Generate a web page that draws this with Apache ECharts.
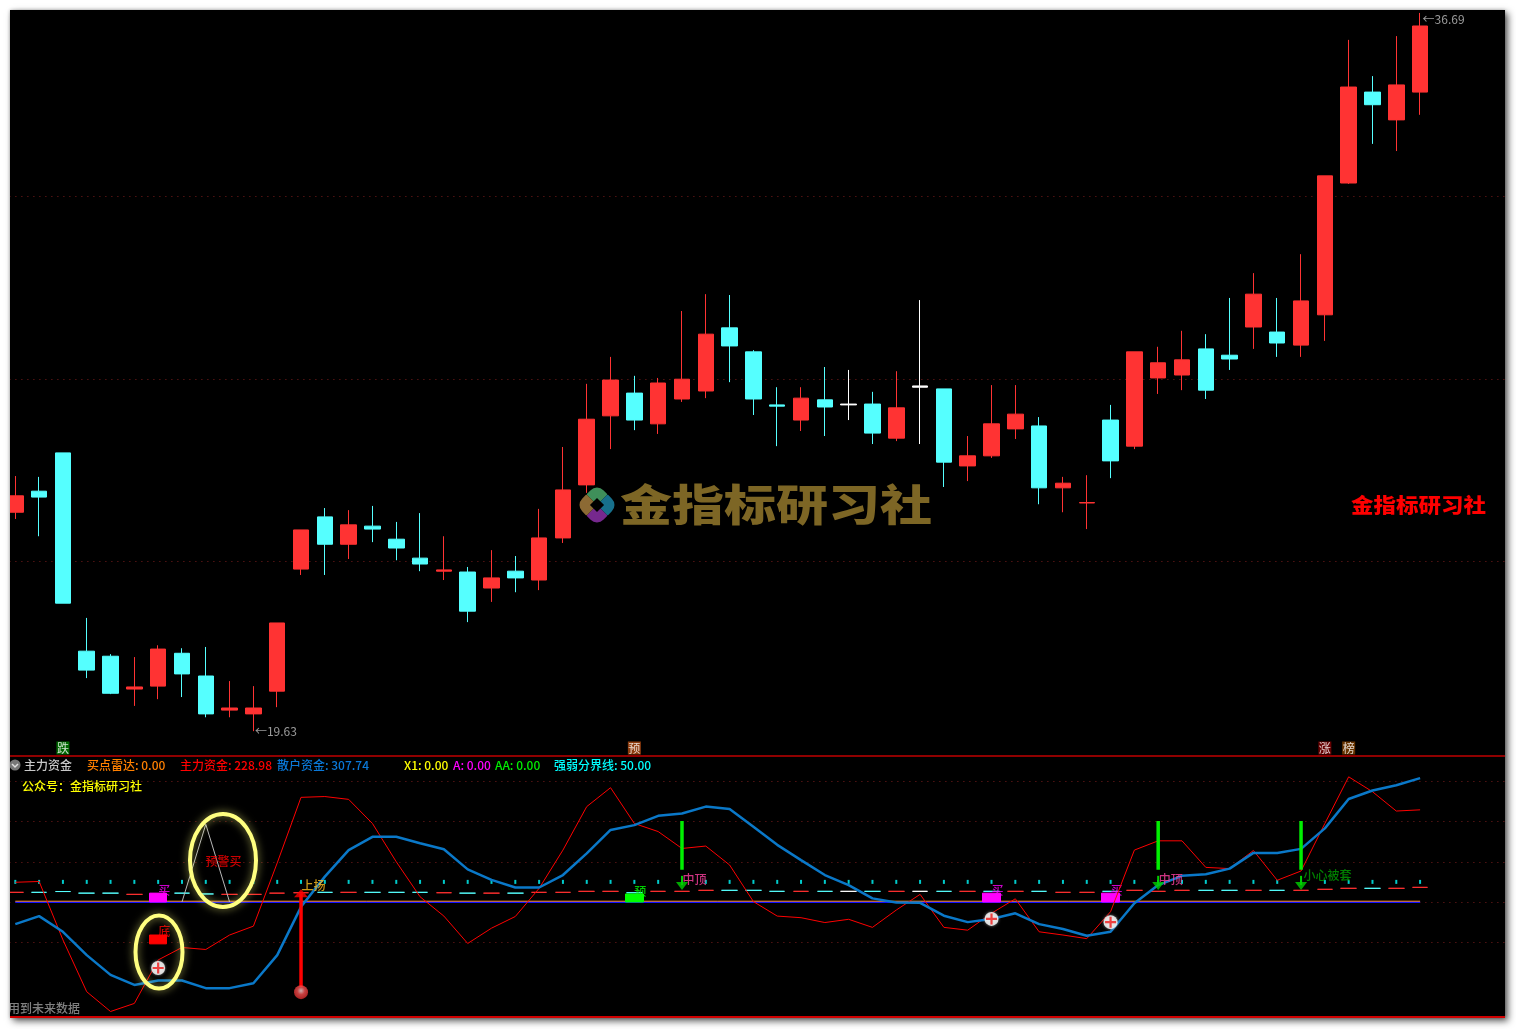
<!DOCTYPE html>
<html>
<head>
<meta charset="utf-8">
<title>主力资金</title>
<script src="https://cdn.jsdelivr.net/npm/echarts@6/dist/echarts.min.js"></script>
<style>
  html, body { margin: 0; padding: 0; background: #fff; }
  #chart {
    position: absolute; left: 10px; top: 10px; width: 1495px; height: 1008px;
    background: #000; overflow: hidden;
    box-shadow: 3px 3px 7px rgba(0, 0, 0, 0.65), 0 0 3px rgba(0, 0, 0, 0.25);
  }
</style>
</head>
<body>
<div id="chart"></div>
<script>
// 64 slots, the last four stay empty like the space right of the last bar
const categories = Array.from({ length: 64 }, (_, i) => i);

// open, close, low, high
const klines = [
  [24.83, 25.22, 24.67, 25.69], [25.33, 25.19, 24.26, 25.67], [26.24, 22.67, 22.67, 26.24], [21.53, 21.08, 20.89, 22.32],
  [21.41, 20.53, 20.51, 21.46], [20.63, 20.68, 20.23, 21.39], [20.70, 21.58, 20.39, 21.67], [21.48, 20.99, 20.44, 21.60],
  [20.94, 20.04, 19.96, 21.63], [20.13, 20.18, 19.96, 20.82], [20.04, 20.18, 19.63, 20.70], [20.58, 22.20, 20.20, 22.20],
  [23.48, 24.41, 23.34, 24.41], [24.72, 24.07, 23.34, 24.93], [24.07, 24.53, 23.72, 24.88], [24.50, 24.43, 24.12, 24.98],
  [24.19, 23.98, 23.69, 24.60], [23.74, 23.60, 23.43, 24.81], [23.43, 23.46, 23.22, 24.26], [23.41, 22.48, 22.22, 23.53],
  [23.03, 23.27, 22.70, 23.93], [23.43, 23.27, 22.93, 23.79], [23.22, 24.22, 22.98, 24.91], [24.22, 25.36, 24.10, 26.38],
  [25.48, 27.04, 25.29, 27.88], [27.12, 27.97, 26.33, 28.52], [27.66, 27.02, 26.78, 28.07], [26.93, 27.90, 26.69, 28.02],
  [27.52, 27.99, 27.45, 29.61], [27.71, 29.06, 27.54, 30.01], [29.21, 28.78, 27.92, 29.99], [28.64, 27.52, 27.14, 28.68],
  [27.38, 27.35, 26.40, 27.80], [27.02, 27.54, 26.76, 27.80], [27.50, 27.33, 26.64, 28.28], [27.40, 27.38, 27.02, 28.21],
  [27.40, 26.71, 26.45, 27.69], [26.59, 27.31, 26.52, 28.18], [27.83, 27.80, 26.45, 29.87], [27.76, 26.02, 25.43, 27.76],
  [25.93, 26.17, 25.57, 26.64], [26.17, 26.93, 26.12, 27.85], [26.81, 27.16, 26.57, 27.85], [26.88, 25.41, 25.02, 27.09],
  [25.41, 25.52, 24.83, 25.67], [25.05, 25.06, 24.43, 25.71], [27.02, 26.05, 25.64, 27.38], [26.40, 28.64, 26.33, 28.64],
  [28.02, 28.38, 27.64, 28.76], [28.09, 28.45, 27.73, 29.14], [28.71, 27.73, 27.52, 29.06], [28.56, 28.47, 28.21, 29.92],
  [29.23, 30.01, 28.71, 30.51], [29.11, 28.85, 28.52, 29.92], [28.80, 29.85, 28.52, 30.96], [29.52, 32.82, 28.90, 32.82],
  [32.65, 34.93, 32.63, 36.05], [34.81, 34.51, 33.58, 35.19], [34.15, 34.98, 33.41, 36.14], [34.81, 36.38, 34.27, 36.69],
];
const whiteDoji = [35, 38];
const priceGrid = [32.34, 27.99, 23.67];
const priceLow = [10, 19.63];
const priceHigh = [59, 36.69];
const bottomTags = [[2, 19.23], [26, 19.23], [55, 19.23], [56, 19.23]];
const bottomTagTexts = ['跌', '预', '涨', '榜'];

const mainFund = [
  49, 51, -94, -223, -272, -252, -144, -113, -118, -82, -60, 97, 260, 262, 255, 195, 100, 13, -35, -103,
  -65, -36, 34, 129, 237, 284, 195, 175, 133, 139, 92, 1, -35, -39, -51, -43, -63, -20, 19, -63,
  -70, -28, 8, -74, -82, -91, -24, 129, 152, 152, 86, 83, 128, 54, 77, 195, 311, 274, 226, 228.98,
];
const retailFund = [
  -55, -35, -74, -132, -181, -206, -195, -195, -214, -214, -202, -132, -12, 63, 129, 162, 162, 146, 131, 81,
  55, 36, 36, 67, 121, 179, 191, 214, 220, 237, 231, 187, 142, 104, 67, 42, 9, -1, -2, -34,
  -50, -42, -28, -55, -67, -84, -74, -3, 42, 65, 69, 83, 122, 122, 132, 183, 256, 277, 290, 307.74,
];
const dividerLine = [
  50, 50, 50, 50, 50, 50, 50, 50, 50, 50, 50, 50, 50, 50, 50, 50, 50, 50, 50, 50,
  50, 50, 50, 50, 50, 50, 50, 50, 50, 50, 50, 50, 50, 50, 50, 50, 50, 50, 50, 50,
  50, 50, 50, 50, 50, 50, 50, 50, 50, 50, 50, 50, 50, 50, 50, 50, 50, 50, 50, 50,
];
const dashTicks = [
  24, 24, 26, 22, 22, 19, 20, 22, 20, 19, 19, 22, 23, 24, 24, 24, 24, 24, 23, 22,
  22, 22, 24, 24, 26.5, 26.5, 23, 26.5, 26.5, 29, 29, 29, 26.5, 26.5, 26.5, 26.5, 26.5, 26.5, 26.5, 26.5,
  26.5, 26.5, 26.5, 26.5, 24, 24, 26.5, 29, 26.5, 29, 29, 29, 29, 29, 29, 31.5, 34, 34, 34, 36.4,
];
const dashKinds = [
  'r', 'c', 'c', 'c', 'c', 'r', 'r', 'c', 'c', 'r', 'r', 'r', 'r', 'c', 'r', 'c', 'c', 'c', 'r', 'c',
  'r', 'c', 'r', 'r', 'r', 'r', 'c', 'r', 'r', 'r', 'c', 'c', 'c', 'r', 'c', 'w', 'c', 'r', 'w', 'c',
  'r', 'c', 'r', 'c', 'r', 'r', 'c', 'r', 'r', 'r', 'c', 'c', 'r', 'c', 'r', 'r', 'r', 'c', 'r', 'r',
];
const indicatorGrid = [300, 200, 100, 0, -100];
const zeroLine = [[0, 0], [59, 0]];
const radarLine = [[0, 2], [59, 2]];
const warnPeak = [[7, 0], [8, 193], [9, 0]];
const magentaBoxes = [[6, 0, 22, 0, 22], [41, 0, 22, 0, 22], [46, 0, 22, 0, 22]];
const greenBoxes = [[26, 0, 20, 0, 20]];
const redBoxes = [[6, -104, -82, -104, -82]];
const plusPoints = [[6, -164], [41, -42], [46, -50]];
const riseBar = [[12, 22], [12, -211]];
const riseHead = [[12, 22]];
const riseBall = [[12, -224]];
const topBars = [[[28, 201], [28, 80]], [[48, 201], [48, 80]], [[54, 201], [54, 80]]];
const topStems = [[[28, 65], [28, 42]], [[48, 65], [48, 42]], [[54, 65], [54, 42]]];
const topHeads = [[28, 40], [48, 40], [54, 40]];

const CJK = '"Noto Sans CJK SC"';
const DOT = [1, 5];

const klineData = klines.map((item, i) => {
  if (!whiteDoji.includes(i)) return item;
  return { value: item, itemStyle: { borderColor: '#fff', borderColor0: '#fff', borderColorDoji: '#fff', color: '#fff', color0: '#fff' } };
});

const dashColors = { r: '#ff3030', c: '#55ffff', w: '#ffffff' };
const dashData = dashTicks.map((v, i) => {
  const c = dashColors[dashKinds[i]];
  return { value: [v, v, v, v], itemStyle: { borderColor: c, borderColor0: c, borderColorDoji: c, color: c, color0: c } };
});

// sparse boxes -> one row per slot, empty where there is no signal
const boxRows = (boxes) => categories.map((i) => {
  const hit = boxes.find((b) => b[0] === i);
  return hit ? hit.slice(1) : ['-', '-', '-', '-'];
});

const boxSeries = (boxes, color) => ({
  type: 'candlestick', xAxisIndex: 1, yAxisIndex: 1, z: 4, barWidth: 18, data: boxRows(boxes),
  itemStyle: { color, color0: color, borderColor: color, borderColor0: color, borderWidth: 1 },
});

const lineSeries = (data, color, width, z) => ({
  type: 'line', xAxisIndex: 1, yAxisIndex: 1, z, symbol: 'none', data,
  lineStyle: { color, width },
});

// text pinned to a data point, the dot itself is invisible
const textSeries = (points, texts, color, fontSize, position, offset, z) => ({
  type: 'scatter', xAxisIndex: 1, yAxisIndex: 1, z: z || 3, symbolSize: 1,
  itemStyle: { color: 'transparent' },
  data: points.map((p, i) => ({ value: p, name: texts[i] })),
  label: { show: true, formatter: '{b}', color, fontSize, fontWeight: 500, fontFamily: CJK, position, offset },
});

const headText = (x, y, text, fill) => ({
  type: 'text', x: x - 10, y: y - 10, z: 50,
  style: { text, fill, font: '500 12px ' + CJK, verticalAlign: 'middle' },
});

const ring = (cx, cy, rx, ry) => ({
  type: 'ellipse', z: 60,
  shape: { cx: cx - 10, cy: cy - 10, rx, ry },
  style: { fill: 'transparent', stroke: '#ffff80', lineWidth: 4, shadowBlur: 8, shadowColor: 'rgba(255,255,128,0.6)' },
});

const chart = echarts.init(document.getElementById('chart'), null, { renderer: 'canvas' });
chart.setOption({
  animation: false,
  backgroundColor: '#000',
  tooltip: { show: false },
  grid: [
    { left: -6.6, width: 1523.84, top: 0, height: 746, outerBoundsMode: 'none' },
    { left: -6.6, width: 1523.84, top: 747, height: 260, outerBoundsMode: 'none' },
  ],
  xAxis: [
    { type: 'category', gridIndex: 0, data: categories, show: false },
    { type: 'category', gridIndex: 1, data: categories, show: false },
  ],
  yAxis: [
    { type: 'value', gridIndex: 0, min: 19.04, max: 36.76, scale: true, show: false, splitLine: { show: false } },
    { type: 'value', gridIndex: 1, min: -285.7, max: 360.25, scale: true, show: false, splitLine: { show: false } },
  ],
  series: [
    {
      type: 'candlestick', xAxisIndex: 0, yAxisIndex: 0, z: 3, barWidth: 16, data: klineData,
      itemStyle: { color: '#ff3333', color0: '#55ffff', borderColor: '#ff3333', borderColor0: '#55ffff', borderColorDoji: '#ff3333', borderWidth: 1 },
      markLine: {
        silent: true, symbol: 'none', z: 1, label: { show: false },
        lineStyle: { color: '#7a1c1c', width: 1, type: DOT },
        data: priceGrid.map((v) => ({ yAxis: v })),
      },
    },
    {
      type: 'scatter', xAxisIndex: 0, yAxisIndex: 0, z: 3, symbolSize: 1, itemStyle: { color: 'transparent' },
      data: [{ value: priceLow, name: '←19.63' }],
      label: { show: true, formatter: '{b}', color: '#c0c0c0', fontSize: 12, fontFamily: CJK, position: 'right', offset: [-4, 0] },
    },
    {
      type: 'scatter', xAxisIndex: 0, yAxisIndex: 0, z: 3, symbolSize: 1, itemStyle: { color: 'transparent' },
      data: [{ value: priceHigh, name: '←36.69' }],
      label: { show: true, formatter: '{b}', color: '#c0c0c0', fontSize: 12, fontFamily: CJK, position: 'right', offset: [-3, 6] },
    },
    {
      type: 'scatter', xAxisIndex: 0, yAxisIndex: 0, z: 3, symbol: 'rect', symbolSize: 13,
      data: bottomTags.map((p, i) => ({
        value: p, name: bottomTagTexts[i],
        itemStyle: { color: ['#008000', '#b04a10', '#800000', '#804000'][i] },
      })),
      label: { show: true, formatter: '{b}', color: '#fff', fontSize: 12, fontFamily: CJK, position: 'inside' },
    },

    {
      type: 'line', xAxisIndex: 1, yAxisIndex: 1, z: 1, symbol: 'none', data: [[0, 0], [63, 0]],
      lineStyle: { width: 0 },
      markLine: {
        silent: true, symbol: 'none', z: 1, label: { show: false },
        lineStyle: { color: '#7a1c1c', width: 1, type: DOT },
        data: indicatorGrid.map((v) => ({ yAxis: v })),
      },
    },
    lineSeries(zeroLine, '#1010ff', 2, 2),
    lineSeries(radarLine, '#ff9000', 1, 2),
    {
      type: 'scatter', xAxisIndex: 1, yAxisIndex: 1, z: 2, symbol: 'rect', symbolSize: [2, 4],
      itemStyle: { color: '#00ffff' }, data: dividerLine,
    },
    {
      type: 'candlestick', xAxisIndex: 1, yAxisIndex: 1, z: 2, barWidth: 16, data: dashData,
    },
    lineSeries(warnPeak, '#b8b8b8', 1, 3),
    textSeries(magentaBoxes.map((b) => [b[0], 24]), ['买', '买', '买'], '#ff00ff', 12, 'top', [6, 10]),
    textSeries(greenBoxes.map((b) => [b[0], 22]), ['预'], '#00ff00', 12, 'top', [6, 10]),
    textSeries(redBoxes.map((b) => [b[0], -80]), ['底'], '#ff0000', 12, 'top', [6, 9]),
    boxSeries(magentaBoxes, '#ff00ff'),
    boxSeries(greenBoxes, '#00ff00'),
    boxSeries(redBoxes, '#ff0000'),
    lineSeries(mainFund, '#ff0000', 1, 5),
    lineSeries(retailFund, '#0a78c8', 2.5, 6),
    textSeries([[9, 102]], ['预警买'], '#ff0000', 12, 'inside', [-6, 0], 7),
    textSeries([[12, 40]], ['上扬'], '#ffc020', 12, 'right', [-5, 0], 7),
    textSeries([[28, 55], [48, 55]], ['中顶', '中顶'], '#ff40a0', 12, 'right', [-5, 0], 7),
    textSeries([[54, 67]], ['小心被套'], '#00a000', 12, 'right', [-3, 0], 7),
    ...topBars.map((b) => lineSeries(b, '#00f000', 3.5, 8)),
    ...topStems.map((b) => lineSeries(b, '#00d000', 2, 8)),
    {
      type: 'scatter', xAxisIndex: 1, yAxisIndex: 1, z: 8, symbol: 'triangle', symbolRotate: 180, symbolSize: [12, 8],
      itemStyle: { color: '#00d000' }, data: topHeads,
    },
    lineSeries(riseBar, '#ff0000', 3.5, 8),
    {
      type: 'scatter', xAxisIndex: 1, yAxisIndex: 1, z: 8, symbol: 'triangle', symbolSize: [14, 8],
      itemStyle: { color: '#ff0000' }, data: riseHead,
    },
    {
      type: 'scatter', xAxisIndex: 1, yAxisIndex: 1, z: 9, symbol: 'circle', symbolSize: 14,
      itemStyle: {
        color: {
          type: 'radial', x: 0.5, y: 0.4, r: 0.6,
          colorStops: [{ offset: 0, color: '#ffd8d8' }, { offset: 0.45, color: '#f85050' }, { offset: 1, color: '#d02828' }],
        },
      },
      data: riseBall,
    },
    {
      type: 'scatter', xAxisIndex: 1, yAxisIndex: 1, z: 9, symbol: 'circle', symbolSize: 14,
      itemStyle: { color: '#fff', shadowBlur: 3, shadowColor: '#999' }, data: plusPoints,
    },
    {
      type: 'scatter', xAxisIndex: 1, yAxisIndex: 1, z: 9, symbol: 'path://M4,0H6V4H10V6H6V10H4V6H0V4H4Z', symbolSize: 11,
      itemStyle: { color: '#f01818' }, data: plusPoints,
    },
  ],
  graphic: [
    { type: 'line', z: 50, shape: { x1: 0, y1: 746, x2: 1495, y2: 746 }, style: { stroke: '#c00000', lineWidth: 1.5 } },
    { type: 'line', z: 50, shape: { x1: 0, y1: 1007, x2: 1495, y2: 1007 }, style: { stroke: '#d00000', lineWidth: 2 } },

    { type: 'circle', z: 50, shape: { cx: 5, cy: 755, r: 5.5 }, style: { fill: '#777' } },
    { type: 'polyline', z: 51, shape: { points: [[2, 754], [5, 757], [8, 754]] }, style: { stroke: '#ddd', lineWidth: 1.5, fill: 'transparent' } },
    headText(24, 765, '主力资金', '#c8c8c8'),
    headText(87, 765, '买点雷达: 0.00', '#ff8000'),
    headText(180, 765, '主力资金: 228.98', '#ff0000'),
    headText(277, 765, '散户资金: 307.74', '#0a78d8'),
    headText(404, 765, 'X1: 0.00', '#ffff00'),
    headText(453, 765, 'A: 0.00', '#ff00ff'),
    headText(495, 765, 'AA: 0.00', '#00f000'),
    headText(554, 765, '强弱分界线: 50.00', '#00ffff'),
    headText(22, 786, '公众号：金指标研习社', '#ffff00'),
    headText(8, 1008, '用到未来数据', '#808080'),

    ring(223, 860.5, 33, 46.5),
    ring(159, 952, 23.5, 36.5),

    // logo and watermark
    {
      type: 'group', x: 587, y: 495, rotation: -Math.PI / 4, z: 40,
      children: [
        { type: 'rect', z: 40, shape: { x: -15, y: -15, width: 15, height: 15, r: [9, 1, 0, 1] }, style: { fill: '#3f8f5a' } },
        { type: 'rect', z: 40, shape: { x: 0, y: -15, width: 15, height: 15, r: [1, 9, 1, 0] }, style: { fill: '#17708c' } },
        { type: 'rect', z: 40, shape: { x: 0, y: 0, width: 15, height: 15, r: [0, 1, 9, 1] }, style: { fill: '#76288e' } },
        { type: 'rect', z: 40, shape: { x: -15, y: 0, width: 15, height: 15, r: [1, 0, 1, 9] }, style: { fill: '#8c6a34' } },
        { type: 'rect', z: 41, shape: { x: -5, y: -5, width: 10, height: 10 }, style: { fill: '#000' } },
      ],
    },
    {
      type: 'text', x: 610, y: 495, scaleY: 0.82, z: 40,
      style: { text: '金指标研习社', fill: '#7d6625', font: '900 52px ' + CJK, verticalAlign: 'middle' },
    },
    {
      type: 'text', x: 1341, y: 495, scaleY: 0.9, z: 40,
      style: { text: '金指标研习社', fill: '#ff0000', font: '900 22.5px ' + CJK, verticalAlign: 'middle' },
    },
  ],
});
</script>
</body>
</html>
